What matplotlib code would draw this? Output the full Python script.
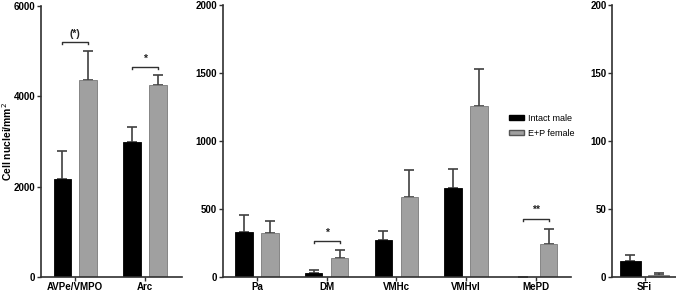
import numpy as np
import matplotlib.pyplot as plt
from matplotlib.patches import Patch

plt.rcParams['font.family'] = ['Liberation Sans', 'DejaVu Sans']

# panel 1
regions1 = ['AVPe/VMPO', 'Arc']
male1 = [2160, 2985]
male1_err = [620, 340]
fem1 = [4355, 4235]
fem1_err = [635, 225]

# panel 2
regions2 = ['Pa', 'DM', 'VMHc', 'VMHvl', 'MePD']
male2 = [328, 29, 274, 656, 3]
male2_err = [128, 26, 61, 139, 0]
fem2 = [321, 141, 585, 1261, 245]
fem2_err = [92, 56, 200, 265, 109]

# panel 3
regions3 = ['SFi']
male3 = [11.7]
male3_err = [4.3]
fem3 = [1.5]
fem3_err = [1.1]

# significance: (panel, group index, bracket height, label)
sig = [(0, 0, 5200, '(*)'), (0, 1, 4640, '*'), (1, 1, 265, '*'), (1, 4, 430, '**')]

BLACK = '#000000'
GREY = '#a0a0a0'
ERR = '#404040'
W = 0.25
OFF = 0.186

fig = plt.figure(figsize=(6.76, 2.93), dpi=100)
axes = [
    fig.add_axes([0.0607, 0.0546, 0.2086, 0.9260]),
    fig.add_axes([0.3294, 0.0546, 0.5148, 0.9283]),
    fig.add_axes([0.9058, 0.0546, 0.0942, 0.9283]),
]

panels = [
    (regions1, male1, male1_err, fem1, fem1_err, 6000, 2000, (-0.49, 1.53), OFF),
    (regions2, male2, male2_err, fem2, fem2_err, 2000, 500, (-0.49, 4.5), OFF),
    (regions3, male3, male3_err, fem3, fem3_err, 200, 50, (-0.38, 0.37), 0.167),
]

for ax, (regs, m, me, f, fe, ymax, step, xl, off) in zip(axes, panels):
    x = np.arange(len(regs))
    ax.bar(x - off, m, W, color=BLACK, edgecolor=BLACK, linewidth=0.6, zorder=2)
    ax.bar(x + off, f, W, color=GREY, edgecolor='#7a7a7a', linewidth=0.6, zorder=2)
    ax.errorbar(x - off, m, yerr=[np.zeros(len(m)), me], fmt='none', ecolor=ERR,
                elinewidth=1.2, capsize=3.4, capthick=1.2, zorder=1)
    ax.errorbar(x + off, f, yerr=[np.zeros(len(f)), fe], fmt='none', ecolor=ERR,
                elinewidth=1.2, capsize=3.4, capthick=1.2, zorder=1)
    ax.set_ylim(0, ymax)
    ax.set_xlim(*xl)
    ax.set_yticks(np.arange(0, ymax + 1, step))
    ax.set_xticks(x)
    ax.set_xticklabels(regs, fontsize=7, fontweight='bold')
    for lab in ax.get_yticklabels():
        lab.set_fontsize(7)
        lab.set_fontweight('bold')
    ax.spines['top'].set_visible(False)
    ax.spines['right'].set_visible(False)
    for s in ['left', 'bottom']:
        ax.spines[s].set_linewidth(1.2)
        ax.spines[s].set_color('#303030')
    ax.tick_params(direction='out', length=3, width=1.0, color='#303030', pad=1.2)
    ax.tick_params(axis='x', pad=0.8)

for p, g, h, lab in sig:
    ax = axes[p]
    ymax = ax.get_ylim()[1]
    d = ymax * 0.008
    ax.plot([g - OFF, g - OFF, g + OFF, g + OFF], [h - d, h, h, h - d],
            color='#303030', linewidth=1.0, clip_on=False)
    ax.text(g, h + ymax * 0.012, lab, ha='center', va='bottom', fontsize=7.5,
            fontweight='bold', color='#222222')

axes[0].set_ylabel('Cell nuclei/mm$^2$', fontsize=7.5, fontweight='bold')
axes[0].yaxis.set_label_coords(-0.19, 0.5)

handles = [Patch(facecolor=BLACK, edgecolor=BLACK),
           Patch(facecolor=GREY, edgecolor='#555555')]
axes[1].legend(handles, ['Intact male', 'E+P female'], loc='upper left',
               bbox_to_anchor=(0.8, 0.63), frameon=False, fontsize=6.5,
               handlelength=1.6, handleheight=0.5, handletextpad=0.5, labelspacing=0.7)

fig.savefig('out.png', dpi=100)
